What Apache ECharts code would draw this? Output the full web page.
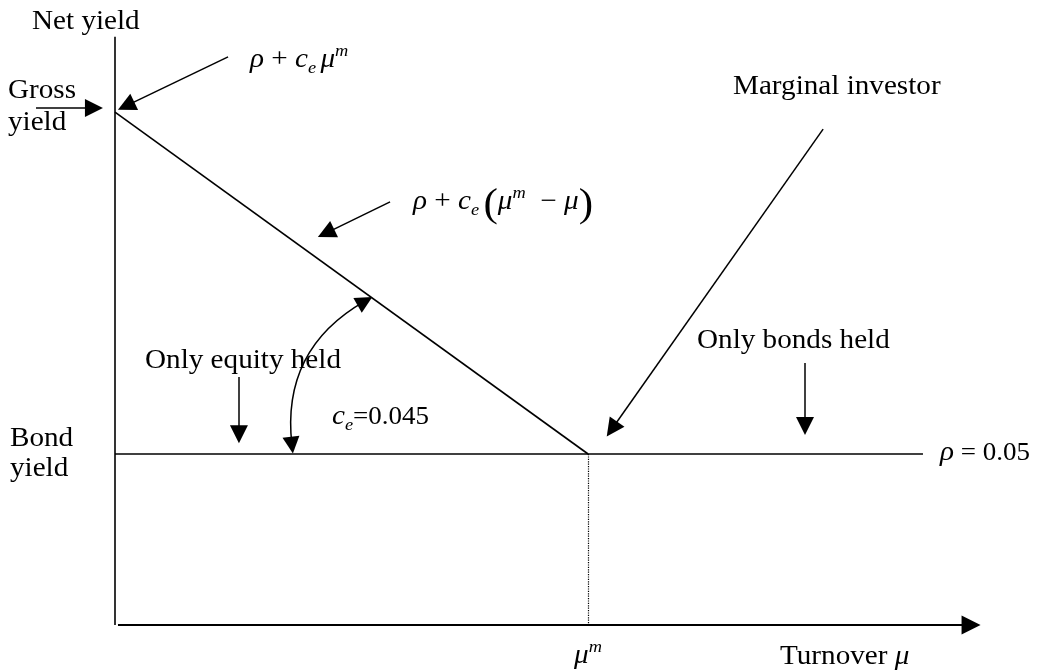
<!DOCTYPE html>
<html>
<head>
<meta charset="utf-8">
<script src="https://cdn.jsdelivr.net/npm/echarts@6/dist/echarts.min.js"></script>
<style>
html, body { margin: 0; padding: 0; background: #fff; }
#chart { width: 1045px; height: 670px; }
</style>
</head>
<body>
<div id="chart"></div>
<script>
// model values
var rho = 0.05;
var ce = 0.045;
var muM = 2.222;            // marginal turnover, rho + ce*muM = gross yield
var gross = rho + ce * muM; // 0.15

// axis ranges (turnover, net yield)
var xRange = [0, 4.2];
var yRange = [0, 0.18];

// plain lines: y axis, yield line, bond line
var yAxisLine = [[0, 0], [0, 0.172]];
var yieldLine = [[0, gross], [muM, rho]];
var bondLine = [[0, rho], [3.795, rho]];
var dropLine = [[muM, rho], [muM, 0]];

// arrows [from, to]
var xAxisArrow = [[0.014, 0], [4.021, 0]];
var pointers = [
	[[-0.371, 0.1512], [-0.099, 0.1512]], // gross yield
	[[0.531, 0.1661], [0.052, 0.1518]],   // rho + ce mu^m
	[[1.292, 0.1237], [0.991, 0.1146]],   // rho + ce(mu^m - mu)
	[[3.326, 0.1450], [2.334, 0.0573]],   // marginal investor
	[[3.241, 0.0766], [3.241, 0.0582]],   // only bonds held
	[[0.582, 0.0725], [0.582, 0.0558]]    // only equity held
];
var angleArc = [[1.174, 0.0947], [0.831, 0.0526]];

var myChart = echarts.init(document.getElementById('chart'));

var FONT = 'Liberation Serif';
var SX = 1.08;
var LH = 34;

var richStyle = {
	i: { fontStyle: 'italic', fontFamily: FONT, fontSize: 27, lineHeight: LH },
	sub: { fontStyle: 'italic', fontFamily: FONT, fontSize: 17, lineHeight: 20, verticalAlign: 'bottom', padding: [0, 4, 0, 0] },
	sub2: { fontStyle: 'italic', fontFamily: FONT, fontSize: 17, lineHeight: 20, verticalAlign: 'bottom' },
	sup: { fontStyle: 'italic', fontFamily: FONT, fontSize: 17, lineHeight: 30, verticalAlign: 'top' },
	p: { fontFamily: FONT, fontSize: 40, lineHeight: 18, verticalAlign: 'top' }
};

// text placed by left x and baseline
function label(x, base, text, size) {
	size = size || 27;
	return {
		type: 'text',
		x: x,
		y: base + 3 - LH / 2 - size * 0.32,
		scaleX: SX,
		silent: true,
		style: {
			text: text,
			fontFamily: FONT,
			fontSize: size,
			lineHeight: LH,
			fill: '#000',
			align: 'left',
			verticalAlign: 'top',
			rich: richStyle
		}
	};
}

function toLines(list) {
	var out = [];
	for (var i = 0; i < list.length; i++) {
		out.push({ coords: list[i] });
	}
	return out;
}

var option = {
	animation: false,
	backgroundColor: '#fff',
	grid: { left: 115, top: 9.4, width: 894.2, height: 615.6 },
	xAxis: { type: 'value', min: xRange[0], max: xRange[1], show: false },
	yAxis: { type: 'value', min: yRange[0], max: yRange[1], show: false },
	graphic: [
		label(32, 28, 'Net yield'),
		label(8, 97, 'Gross'),
		label(8, 129, 'yield'),
		label(10, 445, 'Bond'),
		label(10, 475, 'yield'),
		label(250, 66, '{i|ρ} + {i|c}{sub|e}{i|μ}{sup|m}'),
		label(733, 93, 'Marginal investor'),
		label(413, 208, '{i|ρ} + {i|c}{sub|e}{p|(}{i|μ}{sup|m}  − {i|μ}{p|)}'),
		label(697, 347, 'Only bonds held'),
		label(145, 367, 'Only equity held'),
		label(332, 422, '{i|c}{sub2|e}=0.045', 25),
		label(940, 458, '{i|ρ} = 0.05', 25),
		label(574, 662, '{i|μ}{sup|m}'),
		label(780, 663, 'Turnover {i|μ}')
	],
	series: [{
		type: 'lines',
		coordinateSystem: 'cartesian2d',
		clip: false,
		symbol: 'none',
		lineStyle: { color: '#000', width: 1.6, opacity: 1 },
		data: toLines([yAxisLine, yieldLine, bondLine])
	}, {
		type: 'lines',
		coordinateSystem: 'cartesian2d',
		clip: false,
		symbol: 'none',
		lineStyle: { color: '#000', width: 1.2, type: 'dotted', opacity: 1 },
		data: toLines([dropLine])
	}, {
		type: 'lines',
		coordinateSystem: 'cartesian2d',
		clip: false,
		symbol: ['none', 'triangle'],
		symbolSize: 19,
		lineStyle: { color: '#000', width: 2.2, opacity: 1 },
		itemStyle: { color: '#000' },
		data: toLines([xAxisArrow])
	}, {
		type: 'lines',
		coordinateSystem: 'cartesian2d',
		clip: false,
		symbol: ['none', 'triangle'],
		symbolSize: 18,
		lineStyle: { color: '#000', width: 1.5, opacity: 1 },
		itemStyle: { color: '#000' },
		data: toLines(pointers)
	}, {
		type: 'lines',
		coordinateSystem: 'cartesian2d',
		clip: false,
		symbol: ['triangle', 'triangle'],
		symbolSize: 17,
		lineStyle: { color: '#000', width: 1.5, opacity: 1, curveness: -0.33 },
		itemStyle: { color: '#000' },
		data: toLines([angleArc])
	}]
};

myChart.setOption(option);
</script>
</body>
</html>
